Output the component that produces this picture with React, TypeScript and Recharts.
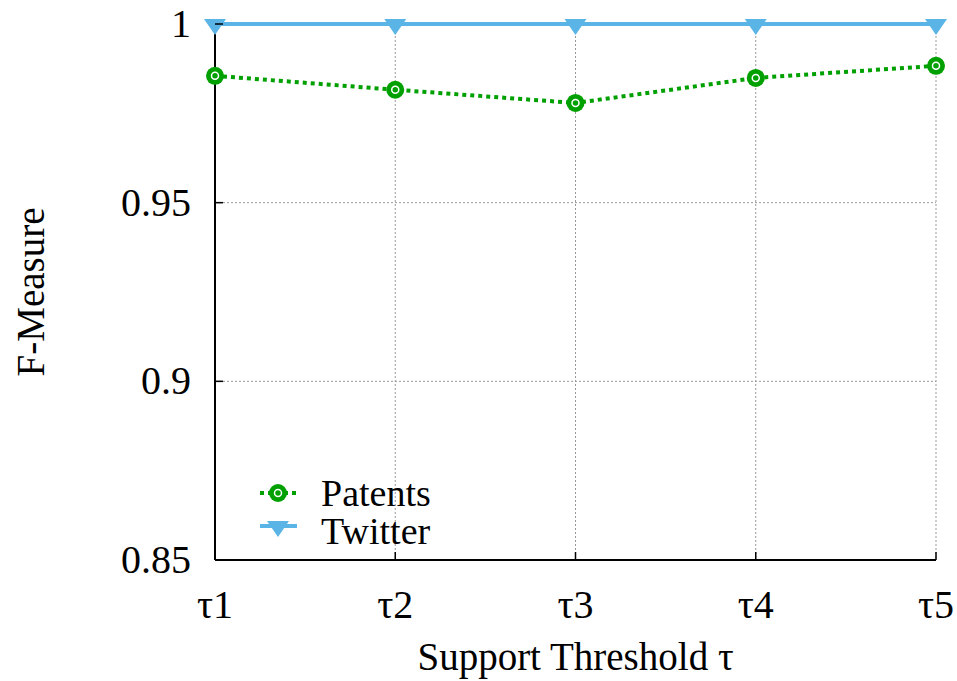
import { LineChart, Line, XAxis, YAxis, CartesianGrid } from "recharts";

const thresholds = ["τ1", "τ2", "τ3", "τ4", "τ5"];
const patents = [0.9855, 0.9816, 0.9779, 0.9849, 0.9883];
const twitter = [1, 1, 1, 1, 1];
const yTicks = [0.85, 0.9, 0.95, 1];

const data = thresholds.map((name, i) => ({
  name,
  patents: patents[i],
  twitter: twitter[i],
}));

const FONT = "'Liberation Serif', 'Times New Roman', serif";
const GREEN = "#00a000";
const BLUE = "#5ab4e6";

function CircleDot(props: any) {
  const { cx, cy } = props;
  if (cx == null || cy == null) return null;
  return (
    <g>
      <circle cx={cx} cy={cy} r={9} fill={GREEN} />
      <circle cx={cx} cy={cy} r={3.5} fill="none" stroke="#fff" strokeWidth={1.5} />
    </g>
  );
}

function TriDot(props: any) {
  const { cx, cy } = props;
  if (cx == null || cy == null) return null;
  return (
    <polygon
      points={`${cx - 11},${cy - 5} ${cx + 11},${cy - 5} ${cx},${cy + 11}`}
      fill={BLUE}
    />
  );
}

function XTick(props: any) {
  const { x, y, payload } = props;
  return (
    <g>
      <line x1={x} y1={y} x2={x} y2={y - 8} stroke="#000" strokeWidth={1.5} />
      <text x={x} y={y + 58} textAnchor="middle" fontFamily={FONT} fontSize={40} fill="#000">
        {payload.value}
      </text>
    </g>
  );
}

function YTick(props: any) {
  const { x, y, payload } = props;
  return (
    <g>
      <line x1={x} y1={y} x2={x + 8} y2={y} stroke="#000" strokeWidth={1.5} />
      <text x={x - 24} y={y + 13} textAnchor="end" fontFamily={FONT} fontSize={40} fill="#000">
        {String(payload.value)}
      </text>
    </g>
  );
}

// legend drawn as an overlay so it doesn't shrink the plot area
function LegendBox() {
  const rows = [
    { label: "Patents", kind: "patents" },
    { label: "Twitter", kind: "twitter" },
  ];
  return (
    <div
      style={{
        position: "absolute",
        left: 255,
        top: 474,
        fontFamily: FONT,
        fontSize: 38,
        lineHeight: "38px",
      }}
    >
      {rows.map((r) => (
        <div key={r.label} style={{ display: "flex", alignItems: "center", height: 38 }}>
          <svg width={64} height={38}>
            {r.kind === "patents" ? (
              <g>
                <line x1={5} y1={19} x2={42} y2={19} stroke={GREEN} strokeWidth={4} strokeDasharray="4 4" />
                <circle cx={23} cy={19} r={9} fill={GREEN} />
                <circle cx={23} cy={19} r={3.5} fill="none" stroke="#fff" strokeWidth={1.5} />
              </g>
            ) : (
              <g>
                <line x1={5} y1={14} x2={42} y2={14} stroke={BLUE} strokeWidth={4} />
                <polygon points="12,9 34,9 23,25" fill={BLUE} />
              </g>
            )}
          </svg>
          <span style={{ marginLeft: 2 }}>{r.label}</span>
        </div>
      ))}
    </div>
  );
}

export default function App() {
  return (
    <div style={{ position: "absolute", left: 0, top: 0, width: 957, height: 681, background: "#fff" }}>
      <LineChart
        width={957}
        height={681}
        data={data}
        margin={{ top: 24, right: 21, bottom: 0, left: 0 }}
      >
        <CartesianGrid stroke="#999" strokeDasharray="2 2" strokeWidth={1} />
        <XAxis
          dataKey="name"
          height={121}
          axisLine={{ stroke: "#000", strokeWidth: 2 }}
          tickLine={false}
          tickSize={0}
          tickMargin={0}
          tick={<XTick />}
          interval={0}
          label={{
            value: "Support Threshold τ",
            position: "insideBottom",
            offset: 11,
            style: { fontFamily: FONT, fontSize: 39, fill: "#000" },
          }}
        />
        <YAxis
          width={215}
          domain={[0.85, 1]}
          ticks={yTicks}
          axisLine={{ stroke: "#000", strokeWidth: 2 }}
          tickLine={false}
          tickSize={0}
          tickMargin={0}
          tick={<YTick />}
          label={{
            value: "F-Measure",
            angle: -90,
            position: "insideLeft",
            offset: 30,
            style: { fontFamily: FONT, fontSize: 39, fill: "#000", textAnchor: "middle" },
          }}
        />
        <Line
          dataKey="patents"
          stroke={GREEN}
          strokeWidth={4}
          strokeDasharray="4 4"
          dot={<CircleDot />}
          activeDot={false}
          isAnimationActive={false}
        />
        <Line
          dataKey="twitter"
          stroke={BLUE}
          strokeWidth={4}
          dot={<TriDot />}
          activeDot={false}
          isAnimationActive={false}
        />
      </LineChart>
      <LegendBox />
    </div>
  );
}
